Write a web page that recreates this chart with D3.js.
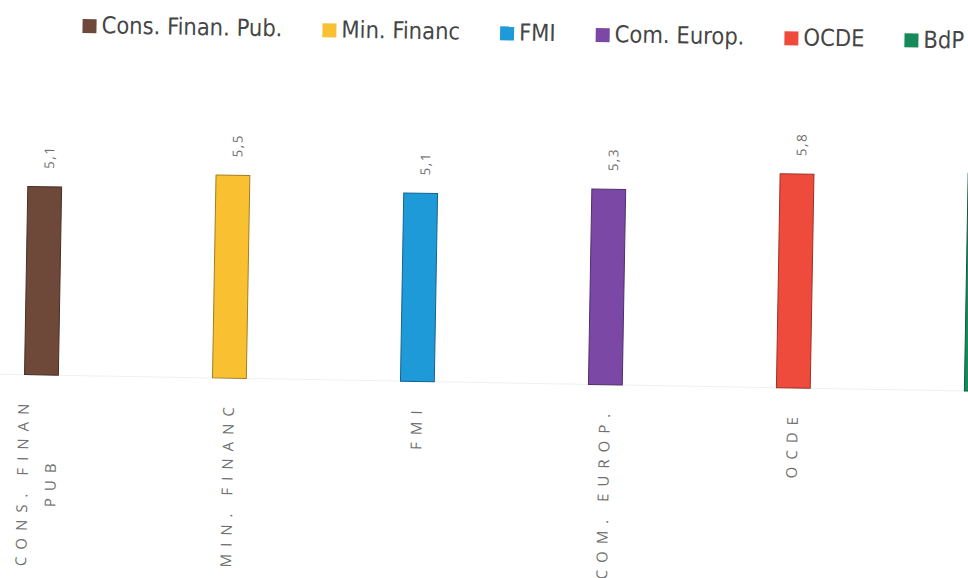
<!DOCTYPE html>
<html>
<head>
<meta charset="utf-8">
<script src="https://cdn.jsdelivr.net/npm/d3@7"></script>
<style>
  html, body { margin: 0; padding: 0; background: #fff; }
  svg { display: block; }
</style>
</head>
<body>
<svg id="chart" width="968" height="578"></svg>
<script>
// ---- data ----
const categories = ["CONS. FINAN PUB", "MIN. FINANC", "FMI", "COM. EUROP.", "OCDE", "BdP"];
const categoryLines = [["CONS. FINAN", "PUB"], ["MIN. FINANC"], ["FMI"], ["COM. EUROP."], ["OCDE"], ["BDP"]];
const legendLabels = ["Cons. Finan. Pub.", "Min. Financ", "FMI", "Com. Europ.", "OCDE", "BdP"];
const values = [5.1, 5.5, 5.1, 5.3, 5.8, 5.9];
const colors = ["#6e4838", "#f9c132", "#1e9ad8", "#7b48a6", "#ee4b3c", "#168a5a"];

// ---- layout ----
const W = 968, H = 578;
const svg = d3.select("#chart");
const root = svg.append("g").attr("transform", "rotate(1,484,289)");

const x = d3.scaleBand().domain(categories).range([-51, 1077])
  .paddingInner(0.82).paddingOuter(0.41);
const y = d3.scaleLinear().domain([0, 6]).range([382.6, 382.6 - 6 * 36.9]);

// faint baseline
root.append("line")
  .attr("x1", 0).attr("x2", W + 40)
  .attr("y1", y(0)).attr("y2", y(0))
  .attr("stroke", "#f0f0f0").attr("stroke-width", 1);

// bars
root.selectAll("rect.bar").data(values).join("rect")
  .attr("class", "bar")
  .attr("x", (d, i) => x(categories[i]))
  .attr("width", x.bandwidth())
  .attr("y", d => y(d))
  .attr("height", d => y(0) - y(d))
  .attr("fill", (d, i) => colors[i])
  .attr("stroke", (d, i) => d3.color(colors[i]).darker(1.2))
  .attr("stroke-width", 1);

// labels only for categories whose bar lies fully inside the frame
// (the last bar is cut by the picture's right edge, as in the original)
const visibleIdx = d3.range(values.length).filter(i => x(categories[i]) + x.bandwidth() < W);

// value labels (rotated)
root.selectAll("text.val").data(visibleIdx).join("text")
  .attr("class", "val")
  .attr("transform", i => `translate(${x(categories[i]) + x.bandwidth() / 2 + 9},${y(values[i]) - 18}) rotate(-90)`)
  .attr("text-anchor", "start")
  .attr("font-family", "'Open Sans', sans-serif")
  .attr("font-size", 13.5)
  .attr("letter-spacing", 1.5)
  .attr("fill", "#707070")
  .text(i => values[i].toFixed(1).replace(".", ","));

// category labels (rotated, letter-spaced)
const catFont = 15, catSpacing = 7;
const catG = root.selectAll("g.cat").data(visibleIdx).join("g")
  .attr("class", "cat");
catG.each(function (i) {
  const lines = categoryLines[i];
  const g = d3.select(this);
  const cx = x(categories[i]) + x.bandwidth() / 2;
  const top = y(0) + 22;
  const n = lines.length;
  const lineGap = 28;
  const t = g.append("text")
    .attr("font-family", "'Open Sans', sans-serif")
    .attr("font-size", catFont)
    .attr("letter-spacing", catSpacing);
  const widths = [];
  lines.forEach(l => { t.text(l); widths.push(t.node().getComputedTextLength()); });
  t.remove();
  const maxW = d3.max(widths);
  lines.forEach((l, j) => {
    const off = (j - (n - 1) / 2) * lineGap - (n > 1 ? 3 : 0);
    const lx = cx + off + 5;
    const ly = top + maxW / 2;
    g.append("text")
      .attr("transform", `translate(${lx},${ly}) rotate(-90)`)
      .attr("text-anchor", "middle")
      .attr("font-family", "'Open Sans', sans-serif")
      .attr("font-size", catFont)
      .attr("letter-spacing", catSpacing)
      .attr("fill", "#707070")
      .text(l);
  });
});

// legend
const legend = root.append("g").attr("class", "legend");
let lx = 78;
const ly = 40;
legendLabels.forEach((lab, i) => {
  legend.append("rect")
    .attr("x", lx).attr("y", ly - 14).attr("width", 14).attr("height", 14)
    .attr("fill", colors[i]);
  const t = legend.append("text")
    .attr("x", lx + 19).attr("y", ly)
    .attr("font-family", "'Liberation Sans Narrow', 'DejaVu Sans Condensed', sans-serif")
    .attr("font-size", 23.5)
    .attr("fill", "#454545")
    .text(lab);
  lx += 19 + t.node().getComputedTextLength() + 40;
});
</script>
</body>
</html>
